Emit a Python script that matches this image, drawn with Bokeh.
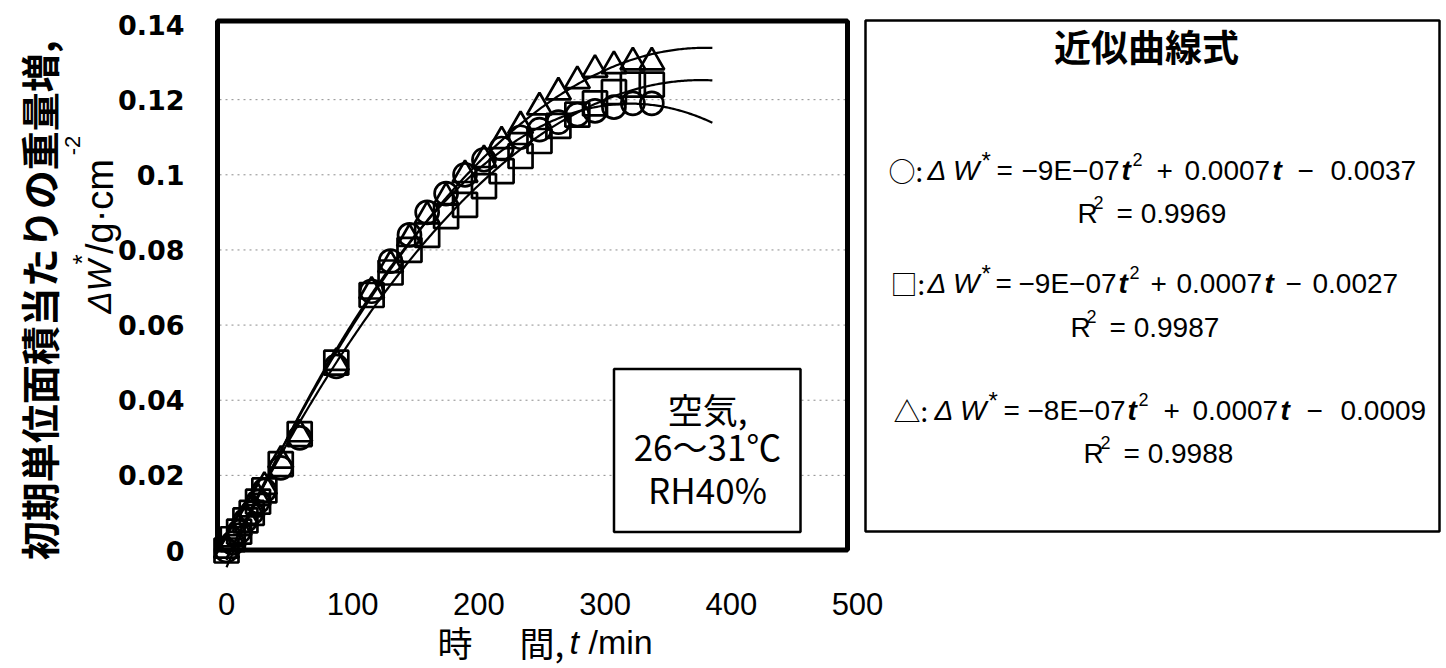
import numpy as np
from bokeh.plotting import figure
from bokeh.models import Range1d, FixedTicker, BoxAnnotation, Label
from bokeh.embed import file_html
from bokeh.resources import INLINE

# ---------------- data ----------------
time_min = [0, 5, 10, 15, 20, 25, 30, 43, 58, 87, 115, 130, 145, 159, 174, 189,
            204, 218, 233, 248, 263, 278, 292, 307, 322, 337]
dw_circle = [0, 0.002, 0.005, 0.008, 0.010, 0.013, 0.016, 0.022, 0.030, 0.049,
             0.069, 0.077, 0.084, 0.090, 0.095, 0.100, 0.104, 0.107, 0.110, 0.112,
             0.114, 0.116, 0.117, 0.118, 0.119, 0.119]
dw_square = [0, 0.003, 0.005, 0.008, 0.010, 0.013, 0.016, 0.023, 0.031, 0.050,
             0.068, 0.074, 0.080, 0.084, 0.089, 0.092, 0.097, 0.101, 0.105, 0.109,
             0.113, 0.116, 0.119, 0.122, 0.124, 0.124]
dw_triangle = [0, 0.003, 0.006, 0.009, 0.011, 0.014, 0.017, 0.024, 0.031, 0.050,
               0.069, 0.076, 0.083, 0.089, 0.094, 0.100, 0.104, 0.109, 0.113, 0.118,
               0.122, 0.125, 0.128, 0.129, 0.130, 0.130]
fit_degree = 2
fit_end_min = 385

x_ticks = [0, 100, 200, 300, 400, 500]
y_ticks = [0, 0.02, 0.04, 0.06, 0.08, 0.1, 0.12, 0.14]
y_tick_labels = ["0", "0.02", "0.04", "0.06", "0.08", "0.1", "0.12", "0.14"]

eq_symbols = ["○:", "□:", "△:"]
eq_a = ["−9E−07", "−9E−07", "−8E−07"]
eq_b = ["0.0007", "0.0007", "0.0007"]
eq_c = ["0.0037", "0.0027", "0.0009"]
eq_r2 = ["0.9969", "0.9987", "0.9988"]
legend_title = "近似曲線式"
cond_lines = ["空気,", "26～31℃", "RH40%"]
y_title_1 = "初期単位面積当たりの重量増,"
x_title_parts = ["時", "間,", "t", "/min"]

# ---------------- geometry (pixel helpers) ----------------
W, H = 1446, 668
T0_PX, PX_PER_MIN = 226.0, 1.262
W0_PX, PX_PER_W = 550.0, 3757.0


def tx(px):
    return (px - T0_PX) / PX_PER_MIN


def wy(py):
    return (W0_PX - py) / PX_PER_W


p = figure(width=W, height=H,
           x_range=Range1d(tx(0), tx(W)),
           y_range=Range1d(wy(H), wy(0)),
           output_backend="svg", toolbar_location=None,
           min_border_left=0, min_border_right=0,
           min_border_top=0, min_border_bottom=0)
p.outline_line_color = None
p.background_fill_color = "white"
p.border_fill_color = "white"
p.grid.visible = False

p.xaxis.ticker = FixedTicker(ticks=x_ticks)
p.yaxis.ticker = FixedTicker(ticks=y_ticks)
p.yaxis.major_label_overrides = {v: s for v, s in zip(y_ticks, y_tick_labels)}
p.xaxis.fixed_location = wy(551)
p.yaxis.fixed_location = tx(209)
for ax in (p.xaxis, p.yaxis):
    ax.axis_line_color = None
    ax.major_tick_line_color = None
    ax.minor_tick_line_color = None
    ax.major_label_text_color = "black"
p.xaxis.major_label_text_font = "Liberation Sans"
p.xaxis.major_label_text_font_size = "31px"
p.xaxis.major_label_standoff = 35
p.yaxis.major_label_text_font = "DejaVu Sans"
p.yaxis.major_label_text_font_style = "bold"
p.yaxis.major_label_text_font_size = "27px"
p.yaxis.major_label_standoff = 19

# horizontal dotted gridlines inside the plot area (at inner y ticks)
grid_vals = y_ticks[1:-1]
p.segment(x0=[tx(219)] * len(grid_vals), x1=[tx(845)] * len(grid_vals),
          y0=grid_vals, y1=grid_vals, line_color="#8c8c8c",
          line_dash="2 4", line_width=1)

# fitted curves (2nd-order least squares on each series)
tt = np.linspace(0, fit_end_min, 300)
for series in (dw_circle, dw_square, dw_triangle):
    coef = np.polyfit(time_min, series, fit_degree)
    p.line(tt, np.polyval(coef, tt), line_color="black", line_width=2.2)

p.scatter(time_min, dw_circle, marker="circle", size=23, fill_color=None,
          line_color="black", line_width=2.7)
p.scatter(time_min, dw_square, marker="square", size=24, fill_color=None,
          line_color="black", line_width=2.7)
p.scatter(time_min, dw_triangle, marker="triangle", size=25, fill_color=None,
          line_color="black", line_width=2.7)

# thick plot-area frame
p.add_layout(BoxAnnotation(left=tx(217), right=tx(847), top=wy(20.5), bottom=wy(549.5),
                           fill_alpha=0, line_color="black", line_alpha=1, line_width=5))
# condition box
p.add_layout(BoxAnnotation(left=tx(613.5), right=tx(800), top=wy(368.5), bottom=wy(531.5),
                           fill_color="white", fill_alpha=1, line_color="black",
                           line_alpha=1, line_width=2.5))
for txt, py in zip(cond_lines, [408, 445, 488]):
    p.add_layout(Label(x=tx(707), y=wy(py), text=txt, text_align="center",
                       text_baseline="middle", text_font="Noto Sans CJK JP",
                       text_font_size="35px", text_color="black"))


def lab(xpx, ypx, text, size="28px", style="normal", font="Liberation Sans",
        align="left", angle=0.0):
    p.add_layout(Label(x=tx(xpx), y=wy(ypx), text=text, text_align=align,
                       text_baseline="middle", text_font=font,
                       text_font_style=style, text_font_size=size,
                       text_color="black", angle=angle))


# y-axis title (rotated, reads bottom to top)
R = np.pi / 2
lab(37, 300, y_title_1, size="39px", style="bold", font="Noto Sans CJK JP",
    align="center", angle=R)
lab(99, 313, "ΔW", size="33px", style="italic", angle=R)
lab(81, 259, "*", size="26px", align="center", angle=R)
lab(99, 206, "/g·cm", size="38px", align="center", angle=R)
lab(72, 145, "-2", size="22px", align="center", angle=R)

# x-axis title
lab(437, 641, x_title_parts[0], size="35px", font="Noto Sans CJK JP")
lab(519, 641, x_title_parts[1], size="35px", font="Noto Sans CJK JP")
lab(569, 641, x_title_parts[2], size="34px", style="italic")
lab(588, 641, x_title_parts[3], size="34px")

# ---------------- right panel: fitted equations ----------------
p.add_layout(BoxAnnotation(left=tx(865), right=tx(1439), top=wy(20), bottom=wy(531),
                           fill_alpha=0, line_color="black", line_alpha=1,
                           line_width=2.5))
lab(1146, 45, legend_title, size="37px", style="bold", font="Noto Sans CJK JP",
    align="center")

eq_y = [170, 283, 410]
r2_y = [213, 327, 453]
# left x of: symbol, ΔW, *, =, a, t, 2, +, b, t, −, c
seg_x = [
    [888, 927, 981, 996, 1021, 1121, 1132, 1156, 1184, 1272, 1297, 1330],
    [890, 927, 981, 995, 1018, 1118, 1129, 1150, 1176, 1264, 1285, 1312],
    [893, 934, 988, 1003, 1027, 1127, 1138, 1163, 1192, 1280, 1306, 1340],
]
r2_x = [[1077, 1093, 1116], [1070, 1086, 1109], [1083, 1100, 1123]]

for i in range(3):
    y = eq_y[i]
    sx = seg_x[i]
    lab(sx[0], y, eq_symbols[i], size="27px", font="Noto Sans CJK JP")
    lab(sx[1], y, "Δ W", style="italic")
    lab(sx[2], y - 10, "*", size="24px")
    lab(sx[3], y, "=")
    lab(sx[4], y, eq_a[i])
    lab(sx[5], y, "t", style="bold italic")
    lab(sx[6], y - 11, "2", size="18px")
    lab(sx[7], y, "+")
    lab(sx[8], y, eq_b[i])
    lab(sx[9], y, "t", style="bold italic")
    lab(sx[10], y, "−")
    lab(sx[11], y, eq_c[i])
    ry = r2_y[i]
    rx = r2_x[i]
    lab(rx[0], ry, "R")
    lab(rx[1], ry - 11, "2", size="18px")
    lab(rx[2], ry, "= " + eq_r2[i])

open("out.html", "w").write(file_html(p, INLINE))
